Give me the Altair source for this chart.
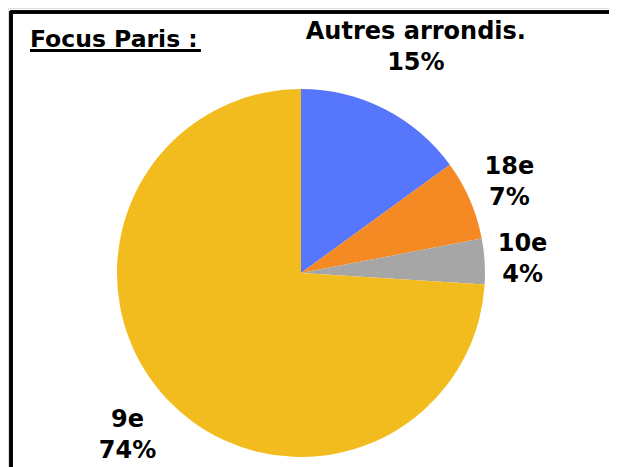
import altair as alt
import pandas as pd
import math

categories = ["Autres arrondis.", "18e", "10e", "9e"]
values = [15, 7, 4, 74]
colors = ["#5676FC", "#F58A25", "#A6A6A6", "#F2BC1F"]
title_text = "Focus Paris :"

df = pd.DataFrame({
    "cat": categories,
    "val": values,
    "order": list(range(len(categories))),
    "label": [f"{c}\n{v}%" for c, v in zip(categories, values)],
})

FONT = "DejaVu Sans"
FS = 24
CX, CY, R = 293, 265, 184

pie = alt.Chart(df).mark_arc(x=CX, y=CY, outerRadius=R).encode(
    theta=alt.Theta("val:Q", stack=True),
    order=alt.Order("order:Q"),
    color=alt.Color("cat:N", scale=alt.Scale(domain=categories, range=colors), legend=None),
)

lab_base = alt.Chart(df).transform_window(
    cum="sum(val)", sort=[alt.SortField("order")]
).transform_calculate(mid="datum.cum - datum.val / 2")

label_radius = {"Autres arrondis.": 253, "18e": 227, "10e": 222, "9e": 238}
labels = [
    lab_base.transform_filter(alt.datum.cat == c).mark_text(
        x=CX, y=CY, radius=r, dy=-15.5, font=FONT, fontSize=FS, fontWeight="bold",
        color="black", lineBreak="\n", lineHeight=31, align="center", baseline="middle",
    ).encode(
        theta=alt.Theta("mid:Q", scale=alt.Scale(domain=[0, 100], range=[0, 2 * math.pi])),
        text="label:N",
    )
    for c, r in label_radius.items()
]

frame_top = alt.Chart(df).mark_rule(color="black", strokeWidth=3).encode(
    x=alt.value(2), x2=alt.value(601), y=alt.value(4)
)
frame_left = alt.Chart(df).mark_rule(color="black", strokeWidth=3).encode(
    x=alt.value(3), y=alt.value(3), y2=alt.value(459)
)

title = alt.Chart(pd.DataFrame({"t": [title_text]})).mark_text(
    font=FONT, fontSize=23.5, fontWeight="bold", color="black", align="left", baseline="alphabetic"
).encode(text="t:N", x=alt.value(22), y=alt.value(39))
underline = alt.Chart(df).mark_rule(color="black", strokeWidth=3).encode(
    x=alt.value(22), x2=alt.value(193), y=alt.value(42.5)
)

chart = alt.layer(pie, *labels, frame_top, frame_left, title, underline).properties(
    width=601, height=459, padding=0, autosize=alt.AutoSizeParams(type="none")
).configure_view(stroke=None).configure(background="white")

chart.save("out.html", embed_options={"renderer": "svg", "actions": False})
